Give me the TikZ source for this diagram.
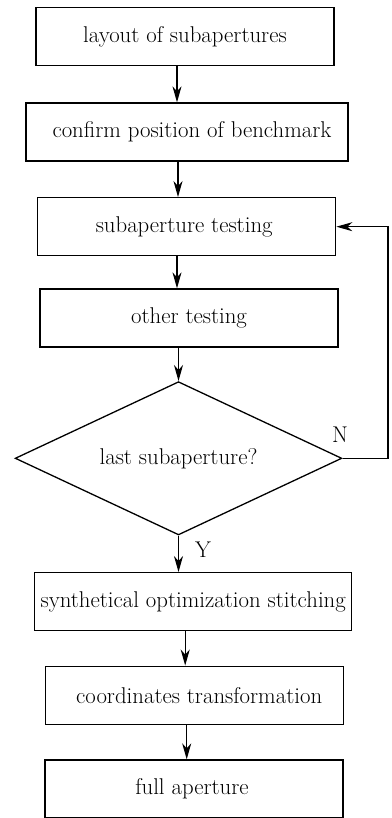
\documentclass[tikz,border=0pt]{standalone}
\usetikzlibrary{shapes.geometric,arrows.meta}
\begin{document}
\begin{tikzpicture}[x=1pt,y=-1pt,
  every node/.style={font=\fontsize{22.8}{26}\selectfont},
  stepbox/.style={draw,line width=1.3pt,inner sep=0pt,minimum width=298pt,minimum height=58pt},
  decision/.style={draw,diamond,line width=1.3pt,inner sep=0pt,minimum width=326.7pt,minimum height=153.3pt},
  arr/.style={line width=1.3pt,-{Stealth[length=16pt,width=9pt,inset=5pt]}},
  tag/.style={inner sep=0pt}]
  \useasboundingbox (0,0) rectangle (391,818);
  % process steps
  \node[stepbox] (b1) at (185,36.5) {layout of subapertures};
  \node[stepbox,minimum width=322pt] (b2) at (187,132) {\hspace*{10pt}confirm position of benchmark};
  \node[stepbox] (b3) at (186.7,226.7) {subaperture testing\hspace*{5pt}};
  \node[stepbox] (b4) at (189,318) {other testing};
  % zero-width text so the diamond keeps its set size
  \node[decision] (d) at (178.5,458.3) {\makebox[0pt]{last subaperture?}};
  \node[stepbox,minimum width=317pt] (b5) at (193.2,601.7) {synthetical optimization stitching};
  \node[stepbox] (b6) at (194.2,695.2) {\hspace*{10pt}coordinates transformation};
  \node[stepbox] (b7) at (194,789) {full aperture\hspace*{4pt}};
  % loop-back point
  \coordinate (fb) at (388,226.7);
  % connectors
  \draw[arr] ([xshift=-8pt]b1.south) -- ([xshift=-8pt]b1.south |- b2.north);
  \draw[arr] ([xshift=-9pt]b2.south) -- ([xshift=-9pt]b2.south |- b3.north);
  \draw[arr] ([xshift=-9.7pt]b3.south) -- ([xshift=-9.7pt]b3.south |- b4.north);
  \draw[arr] (d.north |- b4.south) -- (d.north);
  \draw[arr] (d.south) -- (d.south |- b5.north);
  \draw[arr] ([xshift=-8pt]b5.south) -- ([xshift=-8pt]b5.south |- b6.north);
  \draw[arr] ([xshift=-7.5pt]b6.south) -- ([xshift=-7.5pt]b6.south |- b7.north);
  \draw[arr] (d.east) -| (fb) -- (b3.east);
  % branch labels
  \node[tag] (n) at (340,435) {N};
  \node[tag] (y) at (203,550) {Y};
\end{tikzpicture}
\end{document}
